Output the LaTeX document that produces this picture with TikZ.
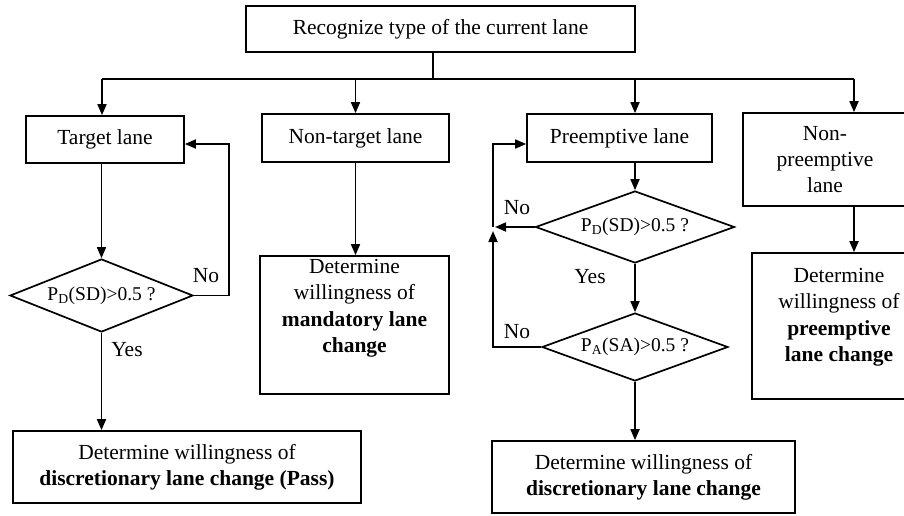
\documentclass[tikz,border=0pt]{standalone}
\usepackage{fontspec}
\setmainfont{Liberation Serif}
\usetikzlibrary{shapes.geometric,arrows.meta,calc}
\begin{document}
\begin{tikzpicture}[x=1pt,y=-1pt,
  box/.style={draw,line width=1.7pt,inner sep=0pt,align=center,font=\fontsize{21.5}{26}\selectfont},
  dia/.style={draw,diamond,line width=1.7pt,inner sep=0pt,aspect=2.5,font=\fontsize{19.5}{22}\selectfont},
  lbl/.style={inner sep=0pt,font=\fontsize{21.5}{26.5}\selectfont},
  arr/.style={line width=1.7pt,-{Triangle[length=11pt,width=9pt]}},
  ln/.style={line width=1.7pt}]
\useasboundingbox (0,0) rectangle (904,515);
\clip (0,0) rectangle (904,515);
% boxes
\node[box,minimum width=389pt,minimum height=46pt] (top) at (440.5,29) {Recognize type of the current lane};
\node[box,minimum width=158pt,minimum height=47pt] (tl) at (105,139.5) {Target lane};
\node[box,minimum width=187pt,minimum height=48pt] (ntl) at (355.5,138) {Non-target lane};
\node[box,minimum width=185pt,minimum height=48pt] (pl) at (619.5,138) {Preemptive lane};
\node[box,minimum width=164pt,minimum height=93pt] (npl) at (825,159.5) {Non-\\preemptive\\lane};
\node[dia,minimum width=183pt,minimum height=73pt] (d1) at (101.5,295.5) {P\textsubscript{D}(SD)>0.5 ?};
\node[box,minimum width=189pt,minimum height=138pt] (ntr) at (354.5,325) {};
\node[lbl,align=center,anchor=north] (ntrt) at (354.5,259) {Determine\\willingness of\\\textbf{mandatory lane}\\\textbf{change}};
\node[box,minimum width=348pt,minimum height=72pt] (bl) at (187,467) {Determine willingness of\\\textbf{discretionary lane change (Pass)}};
\node[dia,minimum width=199pt,minimum height=72pt] (d2) at (635,227) {P\textsubscript{D}(SD)>0.5 ?};
\node[dia,minimum width=186pt,minimum height=68pt] (d3) at (635,347) {P\textsubscript{A}(SA)>0.5 ?};
\node[box,minimum width=303pt,minimum height=72pt] (br) at (643.5,477) {Determine willingness of\\\textbf{discretionary lane change}};
\node[box,minimum width=174pt,minimum height=146pt] (npr) at (839,326) {};
\node[lbl,align=center,anchor=north] (nprt) at (839,268) {Determine\\willingness of\\\textbf{preemptive}\\\textbf{lane change}};
% labels
\node[lbl] (no1) at (206,276) {No};
\node[lbl] (yes1) at (127,350) {Yes};
\node[lbl] (no2) at (517,208) {No};
\node[lbl] (yes2) at (590,277) {Yes};
\node[lbl] (no3) at (517,332) {No};
% connectors
\coordinate (j) at (433,79);
\coordinate (hl) at (102,79);
\coordinate (hr) at (854,79);
\draw[ln] (j |- top.south) -- (j);
\draw[ln] (hl) -- (hr);
\draw[arr] (hl) -- (hl |- tl.north);
\draw[arr] (ntl.north |- j) -- (ntl.north);
\draw[arr] (d2.north |- j) -- (d2.north |- pl.north);
\draw[arr] (hr) -- (hr |- npl.north);
\draw[arr] (d1.north |- tl.south) -- (d1.north);
\coordinate (fb1) at (229,144);
\draw[arr] (d1.east) -| (fb1) -- (fb1 -| tl.east);
\draw[arr] (d1.south) -- (d1.south |- bl.north);
\draw[arr] (ntl.south) -- (ntl.south |- ntr.north);
\draw[arr] (d2.north |- pl.south) -- (d2.north);
\coordinate (fb2) at (493,227);
\coordinate (fb3) at (493,144);
\draw[arr,shorten >=2pt] (d2.west) -- (fb2);
\draw[arr,shorten >=4pt] (d3.west) -| (fb2);
\draw[arr] (fb2) -- (fb3) -- (fb3 -| pl.west);
\draw[arr] (d2.south) -- (d3.north);
\draw[arr] (d3.south) -- (d3.south |- br.north);
\draw[arr] (hr |- npl.south) -- (hr |- npr.north);
\end{tikzpicture}
\end{document}
